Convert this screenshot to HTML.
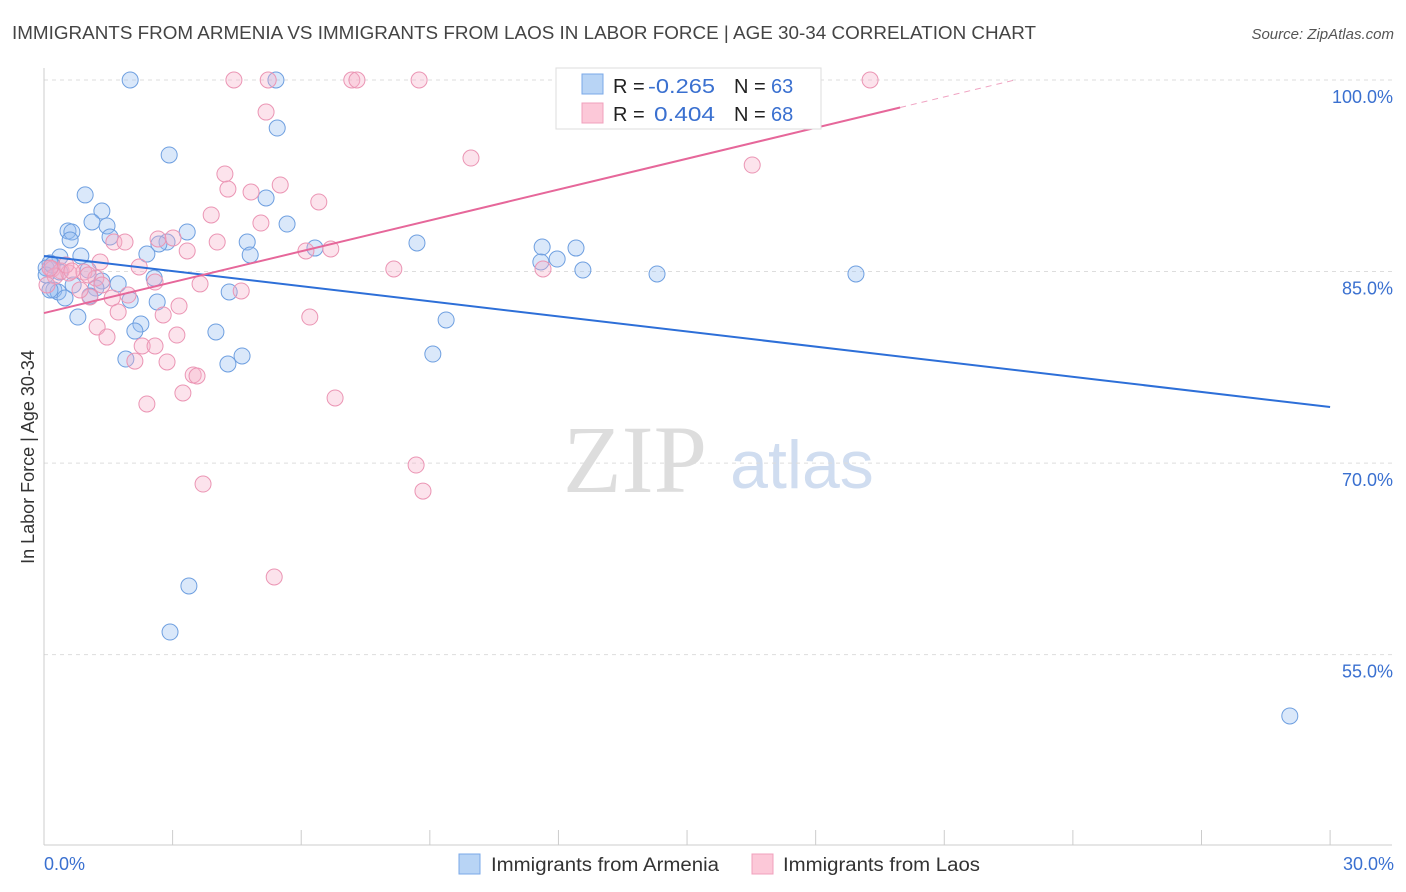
<!DOCTYPE html>
<html><head><meta charset="utf-8"><style>
body{margin:0;background:#fff;font-family:"Liberation Sans",sans-serif;}
svg{display:block}
</style></head><body>
<svg id="chart" width="1406" height="892">
<text x="12" y="39" font-size="18" fill="#444" textLength="1024" lengthAdjust="spacingAndGlyphs">IMMIGRANTS FROM ARMENIA VS IMMIGRANTS FROM LAOS IN LABOR FORCE | AGE 30-34 CORRELATION CHART</text>
<text x="1394" y="39" font-size="15" fill="#555" font-style="italic" text-anchor="end">Source: ZipAtlas.com</text>
<text x="635" y="492" font-size="96" fill="#ddd" font-family="Liberation Serif,serif" text-anchor="middle">ZIP</text>
<text x="802" y="488" font-size="68" fill="#d0ddf0" text-anchor="middle">atlas</text>
<g id="grid"></g><g id="axes"></g><g id="pts"></g><g id="lines"></g>
<text transform="translate(34,457) rotate(-90)" font-size="18" fill="#333" text-anchor="middle">In Labor Force | Age 30-34</text>
<text x="44" y="870" font-size="18" fill="#3a70d0">0.0%</text>
<text x="1394" y="870" font-size="18" fill="#3a70d0" text-anchor="end">30.0%</text>
<g>
<rect x="556" y="68" width="265" height="61" fill="#fff" stroke="#ddd"/>
<rect x="582" y="74" width="21" height="20" fill="#b8d4f5" stroke="#7aa8e8"/>
<rect x="582" y="103" width="21" height="20" fill="#fcc8d8" stroke="#f0a0bc"/>
<text y="93" font-size="20" fill="#222"><tspan x="613">R =</tspan><tspan x="648" fill="#3a70d0" textLength="67" lengthAdjust="spacingAndGlyphs">-0.265</tspan><tspan x="734">N =</tspan><tspan x="771" fill="#3a70d0">63</tspan></text>
<text y="121" font-size="20" fill="#222"><tspan x="613">R =</tspan><tspan x="654" fill="#3a70d0" textLength="61" lengthAdjust="spacingAndGlyphs">0.404</tspan><tspan x="734">N =</tspan><tspan x="771" fill="#3a70d0">68</tspan></text>
</g>
<g>
<rect x="459" y="854" width="21" height="20" fill="#b8d4f5" stroke="#7aa8e8"/>
<text x="491" y="871" font-size="19" fill="#333" textLength="228" lengthAdjust="spacingAndGlyphs">Immigrants from Armenia</text>
<rect x="752" y="854" width="21" height="20" fill="#fcc8d8" stroke="#f0a0bc"/>
<text x="783" y="871" font-size="19" fill="#333" textLength="197" lengthAdjust="spacingAndGlyphs">Immigrants from Laos</text>
</g>
</svg>
<script>
const blueX=[2.01,5.41,13.09,5.44,2.92,0.96,5.18,1.35,1.12,5.67,1.47,0.56,0.65,3.34,0.61,1.54,2.87,4.74,2.68,8.70,11.62,12.41,6.32,2.40,4.81,0.86,0.37,11.59,11.97,0.14,0.05,1.03,0.37,12.57,14.30,18.94,2.57,1.35,1.73,1.21,0.23,0.33,4.32,1.07,0.49,2.01,2.64,2.26,0.79,9.38,2.12,4.01,1.91,4.62,4.29,9.07,3.38,2.94,29.06,0.14,0.05,0.19,0.68];
const blueY=[100,100,100,96.24,94.13,91.0,90.76,89.74,88.88,88.72,88.57,88.18,88.10,88.10,87.47,87.71,87.31,87.31,87.16,87.24,86.92,86.84,86.84,86.37,86.30,86.22,86.14,85.75,85.98,85.67,85.28,85.12,84.96,85.12,84.81,84.81,84.49,84.26,84.03,83.71,83.56,83.40,83.40,83.09,82.93,82.77,82.62,80.89,81.44,81.21,80.34,80.27,78.15,78.39,77.76,78.54,60.38,56.77,50.20,83.56,84.73,85.51,83.95];
const pinkX=[4.43,5.23,7.18,7.30,8.75,14.84,19.27,5.18,9.96,16.52,4.22,4.29,4.83,5.51,6.41,3.90,5.06,1.63,1.89,2.66,3.01,3.34,4.04,6.11,6.69,8.16,11.64,1.31,2.22,0.19,0.40,0.58,0.93,1.21,3.64,2.59,4.60,1.59,1.96,1.07,3.15,1.73,2.78,6.20,1.24,1.47,3.10,2.29,2.59,2.12,2.87,3.48,3.57,3.24,6.79,2.40,8.68,3.71,8.84,5.37,0.26,0.07,0.84,1.03,0.51,0.14,0.65,1.35];
const pinkY=[100,100,100,100,100,100,100,97.49,93.89,93.34,92.64,91.46,91.23,91.78,90.45,89.43,88.80,87.31,87.31,87.55,87.63,86.61,87.31,86.61,86.77,85.20,85.20,85.75,85.36,85.20,85.04,84.89,84.96,84.49,84.03,84.18,83.48,82.93,83.16,83.01,82.30,81.83,81.60,81.44,80.66,79.87,80.03,79.17,79.17,77.99,77.92,76.90,76.82,75.49,75.10,74.63,69.85,68.36,67.81,61.08,84.65,83.95,83.56,84.73,85.51,85.28,85.04,83.95];
const blueTrend=[86.22,74.39];
const pinkTrend=[81.75,0.806,19.97];
const yTicks=[100,85,70,55];
const NS="http://www.w3.org/2000/svg";
const X=v=>44+v*42.87, Y=v=>80+(100-v)*12.77;
function mk(t,a,p){const e=document.createElementNS(NS,t);for(const k in a)e.setAttribute(k,a[k]);document.getElementById(p).appendChild(e);return e;}
yTicks.forEach(t=>{
 const l=mk('line',{x1:44,x2:1392,y1:Y(t),y2:Y(t),stroke:'#ddd','stroke-dasharray':'4,4'},'grid');
 
 
 const tx=mk('text',{x:1393,y:Y(t)+23,'font-size':18,fill:'#3a70d0','text-anchor':'end'},'grid');
 tx.textContent=t.toFixed(1)+'%';
 
 
});
mk('line',{x1:44,x2:44,y1:68,y2:845,stroke:'#ccc'},'axes');
mk('line',{x1:44,x2:1392,y1:845,y2:845,stroke:'#ccc'},'axes');
for(let i=0;i<=10;i++){const l=mk('line',{x1:X(i*3),x2:X(i*3),y1:830,y2:845,stroke:'#ccc'},'axes');
 
 }
blueX.forEach((x,i)=>{const c=mk('circle',{cx:X(x),cy:Y(blueY[i]),r:8,fill:'rgba(150,190,240,0.35)',stroke:'#6e9fe0','stroke-width':1},'pts');
 
 });
pinkX.forEach((x,i)=>{const c=mk('circle',{cx:X(x),cy:Y(pinkY[i]),r:8,fill:'rgba(245,175,200,0.35)',stroke:'#eb95b4','stroke-width':1},'pts');
 
 });
const bl=mk('line',{x1:X(0),y1:Y(blueTrend[0]),x2:X(30),y2:Y(blueTrend[1]),stroke:'#2d6fd8','stroke-width':2},'lines');


const pe=pinkTrend[2], pd=(100-pinkTrend[0])/pinkTrend[1];
const pl=mk('line',{x1:X(0),y1:Y(pinkTrend[0]),x2:X(pe),y2:Y(pinkTrend[0]+pinkTrend[1]*pe),stroke:'#e6679a','stroke-width':2},'lines');


const pl2=mk('line',{x1:X(pe),y1:Y(pinkTrend[0]+pinkTrend[1]*pe),x2:X(pd),y2:Y(100),stroke:'#e6679a','stroke-width':1,'stroke-dasharray':'6,5',opacity:0.6},'lines');


</script>
</body></html>
